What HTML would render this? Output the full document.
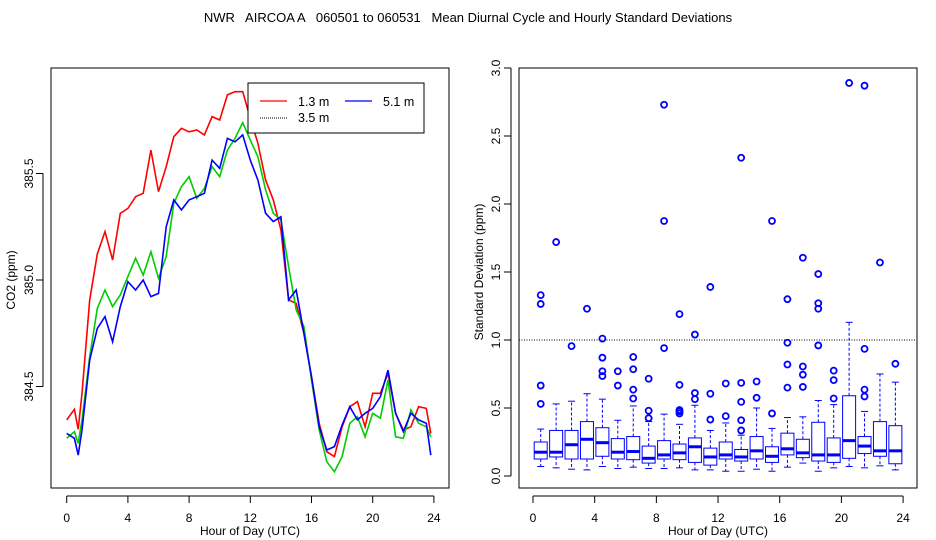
<!DOCTYPE html>
<html><head><meta charset="utf-8"><style>
body{margin:0;background:#fff}
svg{display:block;font-family:"Liberation Sans",sans-serif}
</style></head><body>
<svg id="c" width="936" height="540" viewBox="0 0 936 540">
<rect width="936" height="540" fill="#fff"/>
<text x="468" y="22" font-size="13" text-anchor="middle" style="white-space:pre" xml:space="preserve">NWR   AIRCOA A   060501 to 060531   Mean Diurnal Cycle and Hourly Standard Deviations</text>
<g id="left"></g>
<g id="right"></g>
</svg>
<script>
const hours=[0,0.5,0.75,1,1.5,2,2.5,3,3.5,4,4.5,5,5.5,6,6.5,7,7.5,8,8.5,9,9.5,10,10.5,11,11.5,12,12.5,13,13.5,14,14.5,15,15.5,16,16.5,17,17.5,18,18.5,19,19.5,20,20.5,21,21.5,22,22.5,23,23.5,23.8];
const red=[384.343,384.393,384.299,384.468,384.906,385.122,385.227,385.094,385.313,385.336,385.391,385.407,385.610,385.415,385.532,385.673,385.712,385.696,385.704,385.681,385.767,385.751,385.869,385.884,385.884,385.759,385.642,385.469,385.376,385.235,384.906,384.890,384.750,384.546,384.327,384.194,384.171,384.311,384.405,384.429,384.311,384.468,384.468,384.562,384.374,384.296,384.311,384.405,384.397,384.280];
const green=[384.257,384.288,384.233,384.343,384.640,384.867,384.953,384.875,384.930,385.016,385.102,385.023,385.133,385.008,385.110,385.360,385.438,385.485,385.383,385.430,385.532,385.485,385.610,385.665,385.739,385.657,385.579,385.423,385.313,385.282,385.063,384.859,384.781,384.531,384.296,384.147,384.100,384.171,384.327,384.358,384.264,384.374,384.351,384.531,384.264,384.257,384.390,384.327,384.311,384.264];
const blue=[384.280,384.257,384.178,384.296,384.624,384.773,384.828,384.710,384.875,384.992,384.953,385.000,384.922,384.937,385.250,385.376,385.329,385.376,385.391,385.407,385.563,385.524,385.665,385.649,385.681,385.563,385.469,385.313,385.274,385.297,384.906,384.953,384.750,384.546,384.311,384.202,384.218,384.319,384.405,384.343,384.374,384.397,384.452,384.577,384.374,384.288,384.374,384.343,384.327,384.178];
const xTicks=[0,4,8,12,16,20,24];
const leftYTicks=[384.5,385.0,385.5];
const rightYTicks=[0,0.5,1,1.5,2,2.5,3];
const boxHours=[0.5,1.5,2.5,3.5,4.5,5.5,6.5,7.5,8.5,9.5,10.5,11.5,12.5,13.5,14.5,15.5,16.5,17.5,18.5,19.5,20.5,21.5,22.5,23.5];
const lowW=[0.07,0.06,0.05,0.045,0.07,0.055,0.065,0.055,0.055,0.06,0.045,0.045,0.035,0.035,0.05,0.035,0.065,0.095,0.035,0.06,0.07,0.06,0.075,0.045];
const q1=[0.125,0.14,0.125,0.125,0.145,0.125,0.12,0.095,0.125,0.12,0.10,0.08,0.125,0.11,0.125,0.10,0.155,0.135,0.11,0.10,0.13,0.165,0.145,0.09];
const med=[0.175,0.175,0.23,0.27,0.245,0.175,0.18,0.13,0.155,0.17,0.215,0.14,0.155,0.14,0.185,0.145,0.20,0.17,0.155,0.155,0.26,0.22,0.185,0.185];
const q3=[0.25,0.335,0.335,0.40,0.355,0.275,0.29,0.22,0.26,0.235,0.28,0.205,0.25,0.195,0.29,0.215,0.315,0.27,0.395,0.28,0.59,0.29,0.40,0.37];
const upW=[0.345,0.53,0.55,0.605,0.565,0.41,0.515,0.40,0.455,0.38,0.52,0.335,0.39,0.30,0.50,0.35,0.43,0.435,0.555,0.525,1.13,0.475,0.75,0.69];
const outliers=[[0.53,0.665,1.265,1.33],[1.72],[0.955],[1.23],[0.735,0.77,0.87,1.01],[0.665,0.77],[0.57,0.635,0.785,0.875],[0.425,0.48,0.715],[0.94,1.875,2.73],[0.46,0.475,0.485,0.67,1.19],[0.565,0.61,1.04],[0.415,0.605,1.39],[0.44,0.68],[0.335,0.41,0.545,0.685,2.34],[0.575,0.695],[0.46,1.875],[0.65,0.82,0.98,1.30],[0.655,0.745,0.805,1.605],[0.96,1.23,1.27,1.485],[0.57,0.705,0.775],[2.89],[0.585,0.635,0.935,2.87],[1.57],[0.825]];
const refLine=1.0;

const NS="http://www.w3.org/2000/svg";
function mk(parent,tag,attrs,text){const e=document.createElementNS(NS,tag);for(const k in attrs)e.setAttribute(k,attrs[k]);if(text!==undefined)e.textContent=text;parent.appendChild(e);return e;}

// LEFT PANEL
const L=document.getElementById('left');
const lx=h=>66.7+h*15.3, ly=v=>280-(v-385)*213;
let e=mk(L,'rect',{x:51,y:68,width:398,height:420,fill:'none',stroke:'#000','stroke-width':1});


mk(L,'line',{x1:lx(0),x2:lx(24),y1:496,y2:496,stroke:'#000'});
xTicks.forEach(t=>{mk(L,'line',{x1:lx(t),x2:lx(t),y1:496,y2:503,stroke:'#000'});
 e=mk(L,'text',{x:lx(t),y:522,'font-size':12,'text-anchor':'middle'},String(t));
 
 });
mk(L,'line',{x1:43,x2:43,y1:ly(384.5),y2:ly(385.5),stroke:'#000'});
leftYTicks.forEach(t=>{mk(L,'line',{x1:36,x2:43,y1:ly(t),y2:ly(t),stroke:'#000'});
 e=mk(L,'text',{x:0,y:0,'font-size':12,'text-anchor':'middle',transform:`translate(33,${ly(t)}) rotate(-90)`},t.toFixed(1));
 
 });
e=mk(L,'text',{x:0,y:0,'font-size':12,'text-anchor':'middle',transform:'translate(15,280) rotate(-90)'},'CO2 (ppm)');


e=mk(L,'text',{x:250,y:535,'font-size':12,'text-anchor':'middle'},'Hour of Day (UTC)');


function series(arr,color,name){const d=arr.map((v,i)=>(i?'L':'M')+lx(hours[i]).toFixed(1)+','+ly(v).toFixed(1)).join('');
 const p=mk(L,'path',{d:d,fill:'none',stroke:color,'stroke-width':1.6});
 
 }
series(red,'#f00','series-1-3m');
series(green,'#0c0','series-3-5m');
series(blue,'#00f','series-5-1m');
const lg=mk(L,'g',{});


mk(lg,'rect',{x:248,y:83,width:176,height:50,fill:'#fff',stroke:'#000'});
mk(lg,'line',{x1:260,x2:287,y1:101,y2:101,stroke:'#f00','stroke-width':1.3});
mk(lg,'text',{x:298,y:106,'font-size':12.5},'1.3 m');
mk(lg,'line',{x1:345,x2:372,y1:101,y2:101,stroke:'#00f','stroke-width':1.3});
mk(lg,'text',{x:383,y:106,'font-size':12.5},'5.1 m');
mk(lg,'line',{x1:260,x2:287,y1:118,y2:118,stroke:'#000','stroke-width':1,'stroke-dasharray':'1,1'});
mk(lg,'text',{x:298,y:122,'font-size':12.5},'3.5 m');

// RIGHT PANEL
const R=document.getElementById('right');
const rx=h=>533+h*15.42, ry=v=>476-v*136;
e=mk(R,'rect',{x:519,y:68,width:398,height:420,fill:'none',stroke:'#000'});


mk(R,'line',{x1:rx(0),x2:rx(24),y1:496,y2:496,stroke:'#000'});
xTicks.forEach(t=>{mk(R,'line',{x1:rx(t),x2:rx(t),y1:496,y2:503,stroke:'#000'});
 e=mk(R,'text',{x:rx(t),y:522,'font-size':12,'text-anchor':'middle'},String(t));
 
 });
mk(R,'line',{x1:511,x2:511,y1:ry(0),y2:ry(3),stroke:'#000'});
rightYTicks.forEach(t=>{mk(R,'line',{x1:504,x2:511,y1:ry(t),y2:ry(t),stroke:'#000'});
 e=mk(R,'text',{x:0,y:0,'font-size':12,'text-anchor':'middle',transform:`translate(500,${ry(t)}) rotate(-90)`},t.toFixed(1));
 
 });
e=mk(R,'text',{x:0,y:0,'font-size':12,'text-anchor':'middle',transform:'translate(483,272) rotate(-90)'},'Standard Deviation (ppm)');


e=mk(R,'text',{x:718,y:535,'font-size':12,'text-anchor':'middle'},'Hour of Day (UTC)');


e=mk(R,'line',{x1:519,x2:917,y1:ry(refLine),y2:ry(refLine),stroke:'#000','stroke-width':1,'stroke-dasharray':'1,1.5'});


boxHours.forEach((h,i)=>{
 const g=mk(R,'g',{});
 
 
 const cx=rx(h), w=13;
 mk(g,'line',{x1:cx,x2:cx,y1:ry(q3[i]),y2:ry(upW[i]),stroke:'#00f','stroke-dasharray':'3,2'});
 mk(g,'line',{x1:cx,x2:cx,y1:ry(q1[i]),y2:ry(lowW[i]),stroke:'#00f','stroke-dasharray':'3,2'});
 mk(g,'line',{x1:cx-3.5,x2:cx+3.5,y1:ry(upW[i]),y2:ry(upW[i]),stroke:'#00f'});
 mk(g,'line',{x1:cx-3.5,x2:cx+3.5,y1:ry(lowW[i]),y2:ry(lowW[i]),stroke:'#00f'});
 mk(g,'rect',{x:cx-w/2,y:ry(q3[i]),width:w,height:ry(q1[i])-ry(q3[i]),fill:'none',stroke:'#00f'});
 mk(g,'line',{x1:cx-w/2,x2:cx+w/2,y1:ry(med[i]),y2:ry(med[i]),stroke:'#00f','stroke-width':3});
 outliers[i].forEach(o=>{const c=mk(g,'circle',{cx:cx,cy:ry(o),r:3,fill:'none',stroke:'#00f','stroke-width':1.8});
  
  });
});
</script>
</body></html>
